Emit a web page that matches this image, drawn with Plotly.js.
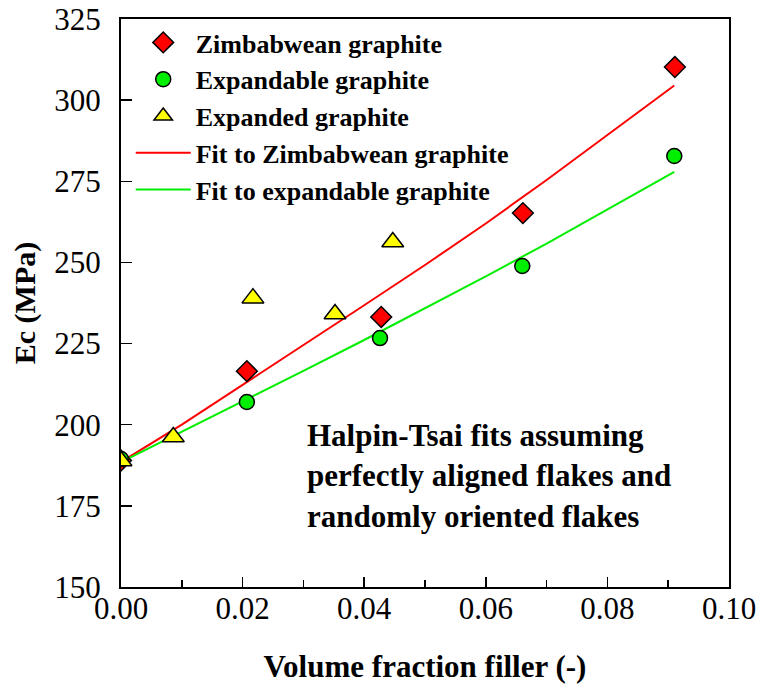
<!DOCTYPE html>
<html>
<head>
<meta charset="utf-8">
<script src="https://cdn.plot.ly/plotly-3.0.1.min.js"></script>
<style>html,body{margin:0;padding:0;background:#fff;}#chart{width:761px;height:686px;}</style>
</head>
<body>
<div id="chart"></div>
<script>
// Measured points
const zimX = [0.0, 0.0207, 0.0428, 0.0661, 0.0911];
const zimY = [189.0, 216.5, 233.2, 265.2, 310.2];

const expandableX = [0.0, 0.0207, 0.0426, 0.0660, 0.0910];
const expandableY = [189.4, 207.0, 226.7, 248.9, 282.8];

const expandedX = [0.0, 0.0086, 0.0217, 0.0352, 0.0447];
const expandedY = [188.8, 196.2, 239.0, 234.1, 256.3];

// Halpin-Tsai fit curves
const fitX = [0.0, 0.01, 0.02, 0.03, 0.04, 0.05, 0.06, 0.07, 0.08, 0.091];
const fitZimY = [188.5, 200.0, 212.3, 224.5, 236.8, 249.2, 262.0, 275.4, 289.3, 304.5];
const fitExpY = [188.5, 197.8, 207.2, 216.6, 226.1, 235.8, 245.7, 255.8, 266.2, 277.9];

const xTickVals = [0, 0.02, 0.04, 0.06, 0.08, 0.10];
const xTickText = ['0.00', '0.02', '0.04', '0.06', '0.08', '0.10'];
const yTickVals = [150, 175, 200, 225, 250, 275, 300, 325];

const serif = 'Liberation Serif, DejaVu Serif, serif';

const traces = [
  {x: fitX, y: fitZimY, mode: 'lines', name: 'Fit to Zimbabwean graphite', legendrank: 4,
   line: {color: '#ff0000', width: 2}},
  {x: fitX, y: fitExpY, mode: 'lines', name: 'Fit to expandable graphite', legendrank: 5,
   line: {color: '#00ee00', width: 2}},
  {x: zimX, y: zimY, mode: 'markers', name: 'Zimbabwean graphite', legendrank: 1,
   marker: {symbol: 'diamond', size: 16, color: '#ff0000', line: {color: '#000', width: 1.5}}},
  {x: expandableX, y: expandableY, mode: 'markers', name: 'Expandable graphite', legendrank: 2,
   marker: {symbol: 'circle', size: 15, color: '#00ee00', line: {color: '#000', width: 1.5}}},
  {x: expandedX, y: expandedY, mode: 'markers', name: 'Expanded graphite', legendrank: 3,
   marker: {symbol: 'triangle-up', size: 19, color: '#ffff00', line: {color: '#000', width: 1.5}}}
];

const layout = {
  width: 761, height: 686,
  margin: {l: 121, r: 32, t: 19, b: 99},
  paper_bgcolor: '#fff', plot_bgcolor: '#fff',
  font: {family: serif, color: '#000', size: 30},
  showlegend: true,
  legend: {x: 0.016, y: 1.0, xanchor: 'left', yanchor: 'top', bgcolor: 'rgba(0,0,0,0)',
           font: {family: serif, size: 26, weight: 'bold', color: '#000'},
           itemwidth: 55, tracegroupgap: 0},
  xaxis: {range: [0, 0.1], tickvals: xTickVals, ticktext: xTickText,
          ticks: 'inside', ticklen: 10, tickwidth: 1.5, tickcolor: '#000',
          minor: {dtick: 0.01, ticks: 'inside', ticklen: 7, tickwidth: 1.5, tickcolor: '#000'},
          showgrid: false, zeroline: false, showline: true, linecolor: '#000', linewidth: 2, mirror: true,
          tickfont: {family: serif, size: 31, color: '#000'}, ticklabelstandoff: -7,
          title: {text: 'Volume fraction filler (-)', font: {family: serif, size: 31, weight: 'bold', color: '#000'}, standoff: 30}},
  yaxis: {range: [150, 325], tickvals: yTickVals,
          ticks: 'inside', ticklen: 11, tickwidth: 1.5, tickcolor: '#000',
          showgrid: false, zeroline: false, showline: true, linecolor: '#000', linewidth: 2, mirror: true,
          tickfont: {family: serif, size: 31, color: '#000'}, ticklabelstandoff: 12,
          title: {text: 'Ec (MPa)', font: {family: serif, size: 30, weight: 'bold', color: '#000'}, standoff: 10}},
  annotations: [{
    xref: 'paper', yref: 'paper', x: 0.303, y: 0.195, xanchor: 'left', yanchor: 'middle', align: 'left',
    showarrow: false,
    text: 'Halpin-Tsai fits assuming<br>perfectly aligned flakes and<br>randomly oriented flakes',
    font: {family: serif, size: 31, weight: 'bold', color: '#000'}
  }]
};

Plotly.newPlot('chart', traces, layout, {displayModeBar: false, staticPlot: true});
</script>
</body>
</html>
